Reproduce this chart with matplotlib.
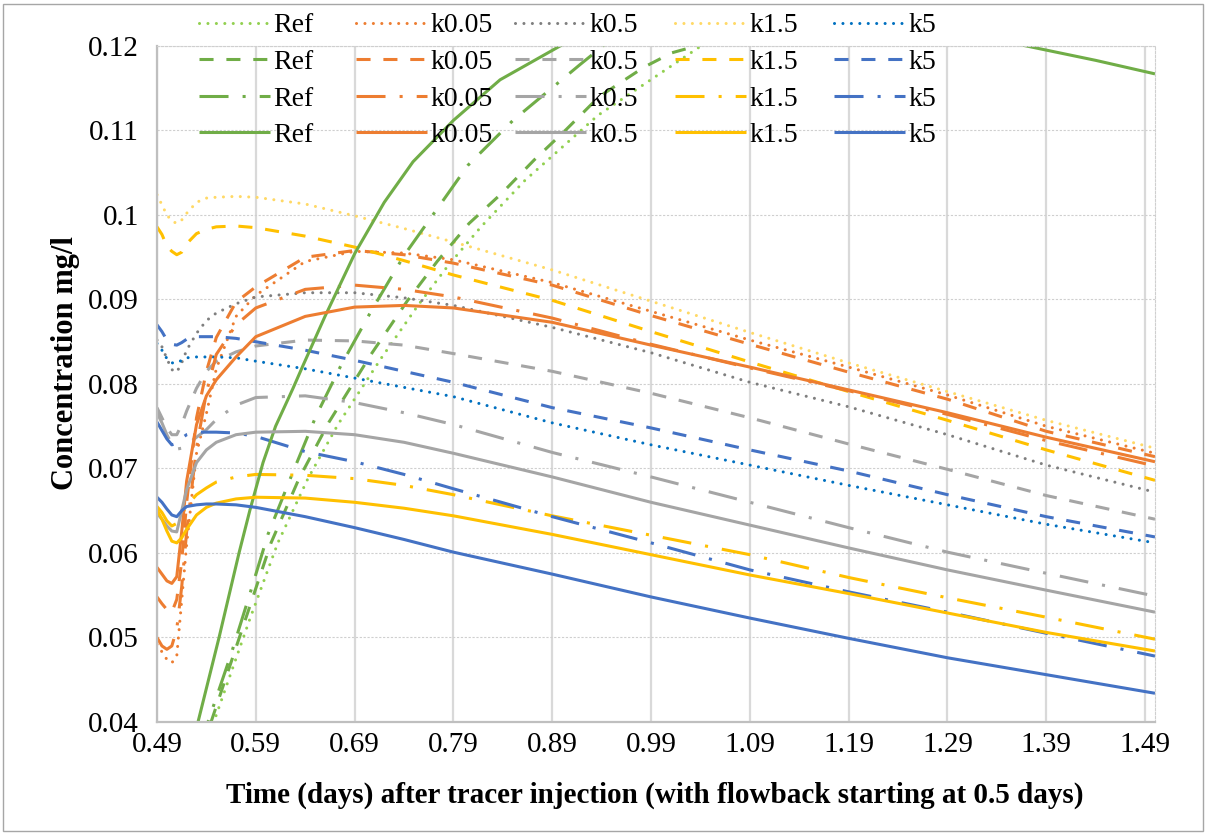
import matplotlib
matplotlib.use('Agg')
import matplotlib.pyplot as plt
from matplotlib.lines import Line2D
from matplotlib.patches import Rectangle

plt.rcParams['font.family'] = ['Liberation Serif', 'DejaVu Serif']

# ---------------- data ----------------
X = [0.49, 0.495, 0.50, 0.505, 0.51, 0.515, 0.52, 0.53, 0.54, 0.55, 0.57, 0.59,
     0.64, 0.69, 0.74, 0.79, 0.89, 0.99, 1.09, 1.19, 1.29, 1.39, 1.50]

k005_dot  = [0.0492, 0.0483, 0.0474, 0.0470, 0.0478, 0.0544, 0.0610, 0.0718, 0.0765, 0.0818, 0.0880, 0.0905,
             0.0945, 0.0957, 0.0955, 0.0947, 0.0920, 0.0886, 0.0852, 0.0820, 0.0787, 0.0750, 0.0718]
k005_dash = [0.0548, 0.0540, 0.0533, 0.0530, 0.0545, 0.0590, 0.0660, 0.0760, 0.0815, 0.0855, 0.0897, 0.0915,
             0.0950, 0.0958, 0.0953, 0.0943, 0.0917, 0.0881, 0.0847, 0.0814, 0.0782, 0.0744, 0.0714]
k005_dd   = [0.0500, 0.0490, 0.0486, 0.0490, 0.0510, 0.0560, 0.0625, 0.0725, 0.0790, 0.0835, 0.0870, 0.0890,
             0.0912, 0.0917, 0.0912, 0.0903, 0.0878, 0.0847, 0.0819, 0.0792, 0.0764, 0.0733, 0.0703]
k005_sol  = [0.0583, 0.0575, 0.0567, 0.0564, 0.0572, 0.0625, 0.0685, 0.0752, 0.0786, 0.0805, 0.0832, 0.0856,
             0.0880, 0.0891, 0.0893, 0.0890, 0.0873, 0.0846, 0.0820, 0.0793, 0.0766, 0.0737, 0.0708]

k05_dot  = [0.0852, 0.0844, 0.0830, 0.0817, 0.0814, 0.0825, 0.0840, 0.0860, 0.0875, 0.0884, 0.0895, 0.0903,
            0.0908, 0.0908, 0.0902, 0.0893, 0.0867, 0.0837, 0.0802, 0.0773, 0.0740, 0.0704, 0.0672]
k05_dash = [0.0772, 0.0760, 0.0748, 0.0740, 0.0740, 0.0752, 0.0768, 0.0795, 0.0815, 0.0827, 0.0838, 0.0845,
            0.0852, 0.0851, 0.0846, 0.0836, 0.0815, 0.0789, 0.0760, 0.0729, 0.0699, 0.0668, 0.0640]
k05_dd   = [0.0766, 0.0754, 0.0740, 0.0729, 0.0723, 0.0724, 0.0728, 0.0737, 0.0746, 0.0758, 0.0775, 0.0784,
            0.0786, 0.0778, 0.0766, 0.0752, 0.0719, 0.0690, 0.0660, 0.0630, 0.0601, 0.0576, 0.0549]
k05_sol  = [0.0647, 0.0640, 0.0632, 0.0626, 0.0625, 0.0650, 0.0675, 0.0707, 0.0722, 0.0731, 0.0740, 0.0743,
            0.0744, 0.0740, 0.0731, 0.0718, 0.0690, 0.0660, 0.0633, 0.0606, 0.0580, 0.0556, 0.0530]

k15_dot  = [0.1024, 0.1012, 0.1000, 0.0993, 0.0990, 0.0994, 0.1002, 0.1015, 0.1020, 0.1021, 0.1022, 0.1021,
            0.1013, 0.0999, 0.0984, 0.0968, 0.0935, 0.0898, 0.0861, 0.0825, 0.0791, 0.0757, 0.0724]
k15_dash = [0.0986, 0.0977, 0.0963, 0.0957, 0.0953, 0.0956, 0.0966, 0.0978, 0.0983, 0.0986, 0.0987, 0.0985,
            0.0975, 0.0962, 0.0946, 0.0929, 0.0899, 0.0862, 0.0826, 0.0791, 0.0757, 0.0722, 0.0686]
k15_dd   = [0.0655, 0.0648, 0.0638, 0.0632, 0.0635, 0.0645, 0.0656, 0.0669, 0.0677, 0.0684, 0.0690, 0.0693,
            0.0692, 0.0688, 0.0680, 0.0669, 0.0644, 0.0621, 0.0598, 0.0571, 0.0547, 0.0524, 0.0498]
k15_sol  = [0.0651, 0.0640, 0.0626, 0.0614, 0.0612, 0.0618, 0.0628, 0.0645, 0.0654, 0.0659, 0.0664, 0.0666,
            0.0665, 0.0660, 0.0653, 0.0644, 0.0622, 0.0598, 0.0574, 0.0552, 0.0529, 0.0506, 0.0484]

k5_dot  = [0.0848, 0.0840, 0.0830, 0.0825, 0.0825, 0.0828, 0.0831, 0.0832, 0.0832, 0.0832, 0.0831, 0.0827,
           0.0818, 0.0807, 0.0796, 0.0785, 0.0754, 0.0728, 0.0704, 0.0680, 0.0657, 0.0634, 0.0612]
k5_dash = [0.0870, 0.0862, 0.0852, 0.0847, 0.0846, 0.0849, 0.0853, 0.0856, 0.0856, 0.0856, 0.0854, 0.0850,
           0.0840, 0.0828, 0.0815, 0.0802, 0.0772, 0.0748, 0.0722, 0.0697, 0.0669, 0.0643, 0.0619]
k5_dd   = [0.0755, 0.0745, 0.0735, 0.0728, 0.0730, 0.0736, 0.0740, 0.0743, 0.0743, 0.0743, 0.0742, 0.0738,
           0.0720, 0.0708, 0.0693, 0.0676, 0.0643, 0.0612, 0.0580, 0.0554, 0.0530, 0.0505, 0.0478]
k5_sol  = [0.0666, 0.0660, 0.0652, 0.0645, 0.0643, 0.0650, 0.0655, 0.0657, 0.0658, 0.0658, 0.0657, 0.0654,
           0.0643, 0.0630, 0.0616, 0.0601, 0.0575, 0.0548, 0.0523, 0.0499, 0.0476, 0.0456, 0.0434]

ref_sol_x = [0.5234, 0.5315, 0.5528, 0.5730, 0.5841, 0.5973, 0.6100, 0.6277, 0.6378, 0.6600, 0.6904, 0.7200,
             0.7491, 0.7900, 0.8372, 0.8979, 0.95, 1.00, 1.05, 1.10, 1.15, 1.20, 1.25, 1.30, 1.37, 1.44, 1.50]
ref_sol_y = [0.0365, 0.0400, 0.0500, 0.0600, 0.0651, 0.0707, 0.0750, 0.0795, 0.0822, 0.0880, 0.0955, 0.1015,
             0.1063, 0.1112, 0.1160, 0.1200, 0.1225, 0.1240, 0.1248, 0.1250, 0.1246, 0.1238, 0.1228, 0.1216,
             0.1200, 0.1183, 0.1167]

ref_dd_x = [0.5320, 0.5416, 0.5649, 0.5841, 0.6023, 0.6256, 0.6509, 0.6762, 0.7066, 0.7400, 0.7764, 0.8048,
            0.8503, 0.9181, 0.9414, 0.99, 1.19, 1.50]
ref_dd_y = [0.0370, 0.0400, 0.0480, 0.0552, 0.0622, 0.0690, 0.0762, 0.0822, 0.0886, 0.0952, 0.1012, 0.1059,
            0.1112, 0.1178, 0.1200, 0.1235, 0.1275, 0.1290]

ref_dash_x = [0.5350, 0.5447, 0.5791, 0.6054, 0.6337, 0.6641, 0.7066, 0.7431, 0.7735, 0.8058, 0.8392, 0.8716,
              0.9040, 0.9374, 0.9829, 1.0112, 1.19, 1.50]
ref_dash_y = [0.0370, 0.0400, 0.0520, 0.0612, 0.0688, 0.0755, 0.0835, 0.0898, 0.0945, 0.0990, 0.1026, 0.1065,
              0.1101, 0.1140, 0.1175, 0.1192, 0.1250, 0.1280]

ref_dot_x = [0.5380, 0.5475, 0.5840, 0.6123, 0.6427, 0.6731, 0.7166, 0.7541, 0.7845, 0.8179, 0.8624, 0.9363,
             1.0405, 1.19, 1.50]
ref_dot_y = [0.0370, 0.0400, 0.0522, 0.0612, 0.0688, 0.0752, 0.0830, 0.0893, 0.0940, 0.0986, 0.1041, 0.1118,
             0.1200, 0.1260, 0.1285]

names = ['Ref', 'k0.05', 'k0.5', 'k1.5', 'k5']
x_ticks = [0.49, 0.59, 0.69, 0.79, 0.89, 0.99, 1.09, 1.19, 1.29, 1.39, 1.49]
x_ticklabels = ['0.49', '0.59', '0.69', '0.79', '0.89', '0.99', '1.09', '1.19', '1.29', '1.39', '1.49']
y_ticks = [0.04, 0.05, 0.06, 0.07, 0.08, 0.09, 0.10, 0.11, 0.12]
y_ticklabels = ['0.04', '0.05', '0.06', '0.07', '0.08', '0.09', '0.1', '0.11', '0.12']

# ---------------- styles ----------------
LW = 2.2
STY = {
    'dot':  dict(linestyle=(0, (0.01, 2.75)), dash_capstyle='round'),
    'dash': dict(linestyle=(0, (4.6, 4.2)), dash_capstyle='butt'),
    'dd':   dict(linestyle=(0, (9.5, 4.6, 1.0, 4.6)), dash_capstyle='butt'),
    'sol':  dict(linestyle='-', solid_capstyle='butt'),
}
COL = {
    'Ref':   {'dot': '#92D050', 'other': '#70AD47'},
    'k0.05': {'dot': '#ED7D31', 'other': '#ED7D31'},
    'k0.5':  {'dot': '#7F7F7F', 'other': '#A5A5A5'},
    'k1.5':  {'dot': '#FFD966', 'other': '#FFC000'},
    'k5':    {'dot': '#0070C0', 'other': '#4472C4'},
}

series = {
    'Ref':   {'dot': (ref_dot_x, ref_dot_y), 'dash': (ref_dash_x, ref_dash_y),
              'dd': (ref_dd_x, ref_dd_y), 'sol': (ref_sol_x, ref_sol_y)},
    'k0.05': {'dot': (X, k005_dot), 'dash': (X, k005_dash), 'dd': (X, k005_dd), 'sol': (X, k005_sol)},
    'k0.5':  {'dot': (X, k05_dot), 'dash': (X, k05_dash), 'dd': (X, k05_dd), 'sol': (X, k05_sol)},
    'k1.5':  {'dot': (X, k15_dot), 'dash': (X, k15_dash), 'dd': (X, k15_dd), 'sol': (X, k15_sol)},
    'k5':    {'dot': (X, k5_dot), 'dash': (X, k5_dash), 'dd': (X, k5_dd), 'sol': (X, k5_sol)},
}

W, H = 1207, 834
fig = plt.figure(figsize=(W / 100, H / 100), dpi=100)
fig.patch.set_facecolor('white')
fig.patches.append(Rectangle((3 / W, 3 / H), (W - 7) / W, (H - 7) / H, transform=fig.transFigure,
                             fill=False, edgecolor='#A6A6A6', linewidth=1.0))

ax = fig.add_axes([157 / W, 1 - 722 / H, (1155 - 157) / W, (722 - 46) / H])
ax.set_xlim(0.49, 1.50)
ax.set_ylim(0.04, 0.12)

# grid
for xv in x_ticks:
    ax.axvline(xv, color='#D9D9D9', linewidth=1.6, zorder=0.5)
for yv in y_ticks[1:]:
    ax.axhline(yv, color='#CFCFCF', linewidth=0.8, linestyle=(0, (2, 1.5)), zorder=0.5)

legend_handles = {n: [] for n in names}
for kind in ['dot', 'dash', 'dd', 'sol']:
    for n in names:
        xs, ys = series[n][kind]
        c = COL[n]['dot'] if kind == 'dot' else COL[n]['other']
        ax.plot(xs, ys, color=c, linewidth=LW, zorder=2, **STY[kind])
for n in names:
    for kind in ['dot', 'dash', 'dd', 'sol']:
        c = COL[n]['dot'] if kind == 'dot' else COL[n]['other']
        legend_handles[n].append(Line2D([], [], color=c, linewidth=LW, **STY[kind]))

ax.set_xticks(x_ticks)
ax.set_xticklabels(x_ticklabels, fontsize=21)
ax.set_yticks(y_ticks)
ax.set_yticklabels(y_ticklabels, fontsize=21)
ax.tick_params(axis='both', length=0)
ax.tick_params(axis='x', pad=7)
ax.tick_params(axis='y', pad=13)

for s in ['left', 'bottom']:
    ax.spines[s].set_color('#BFBFBF')
    ax.spines[s].set_linewidth(1.6)
for s in ['top', 'right']:
    ax.spines[s].set_color('#CFCFCF')
    ax.spines[s].set_linewidth(0.8)
    ax.spines[s].set_linestyle((0, (2, 1.5)))

fig.text(655 / W, 1 - 795 / H, 'Time (days) after tracer injection (with flowback starting at 0.5 days)',
         ha='center', va='center', fontsize=21, fontweight='bold')
fig.text(65 / W, 1 - 363 / H, 'Concentration mg/l', ha='center', va='center', rotation=90,
         fontsize=22, fontweight='bold')

# legend: five columns
col_x = [199, 356, 515, 675, 834]
for i, n in enumerate(names):
    leg = fig.legend(legend_handles[n], [n] * 4, loc='upper left',
                     bbox_to_anchor=(col_x[i] / W, 1 - 13 / H), bbox_transform=fig.transFigure,
                     frameon=False, fontsize=20, handlelength=2.55, handletextpad=0.12,
                     labelspacing=0.40, borderpad=0, borderaxespad=0)

fig.savefig('out.png', dpi=100)
